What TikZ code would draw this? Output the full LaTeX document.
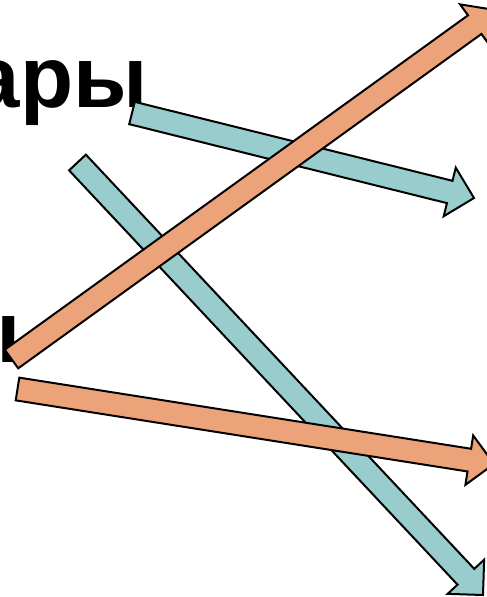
\documentclass[tikz,border=0pt]{standalone}
\usepackage{fontspec}
\setmainfont{Liberation Sans}
\usetikzlibrary{calc}
\definecolor{arrorange}{RGB}{236,163,122}
\definecolor{arrteal}{RGB}{153,205,205}
\tikzset{
  blockarr/.style={draw=black, line width=2pt, line join=miter},
  bigtext/.style={inner sep=0pt, font=\fontsize{87}{90}\bfseries\selectfont}
}
% #1 fill colour, #2 tail, #3 tip
\newcommand{\myblockarrow}[3]{%
  \coordinate (ta) at #2;
  \coordinate (tb) at #3;
  \coordinate (tn) at ($(tb)!25pt!(ta)$);
  \filldraw[blockarr, fill=#1]
    ($(ta)!11.5pt!90:(tb)$) -- ($(tn)!11.5pt!-90:(ta)$) -- ($(tn)!25pt!-90:(ta)$)
    -- (tb) -- ($(tn)!25pt!90:(ta)$) -- ($(tn)!11.5pt!90:(ta)$)
    -- ($(ta)!11.5pt!-90:(tb)$) -- cycle;
}
\begin{document}
\begin{tikzpicture}[x=1pt,y=-1pt]
\useasboundingbox (0,0) rectangle (487,597);
\fill[white] (0,0) rectangle (487,597);
\node[bigtext, anchor=base east] (t1) at (148,107) {ары};
\node[bigtext, anchor=base east] (t2) at (21,362) {ы};
\myblockarrow{arrteal}{(132,113)}{(474,198)}
\myblockarrow{arrteal}{(77.5,162.5)}{(483,595)}
\myblockarrow{arrorange}{(11.5,359)}{(495,10)}
\myblockarrow{arrorange}{(17.5,389)}{(494,464)}
\end{tikzpicture}
\end{document}
